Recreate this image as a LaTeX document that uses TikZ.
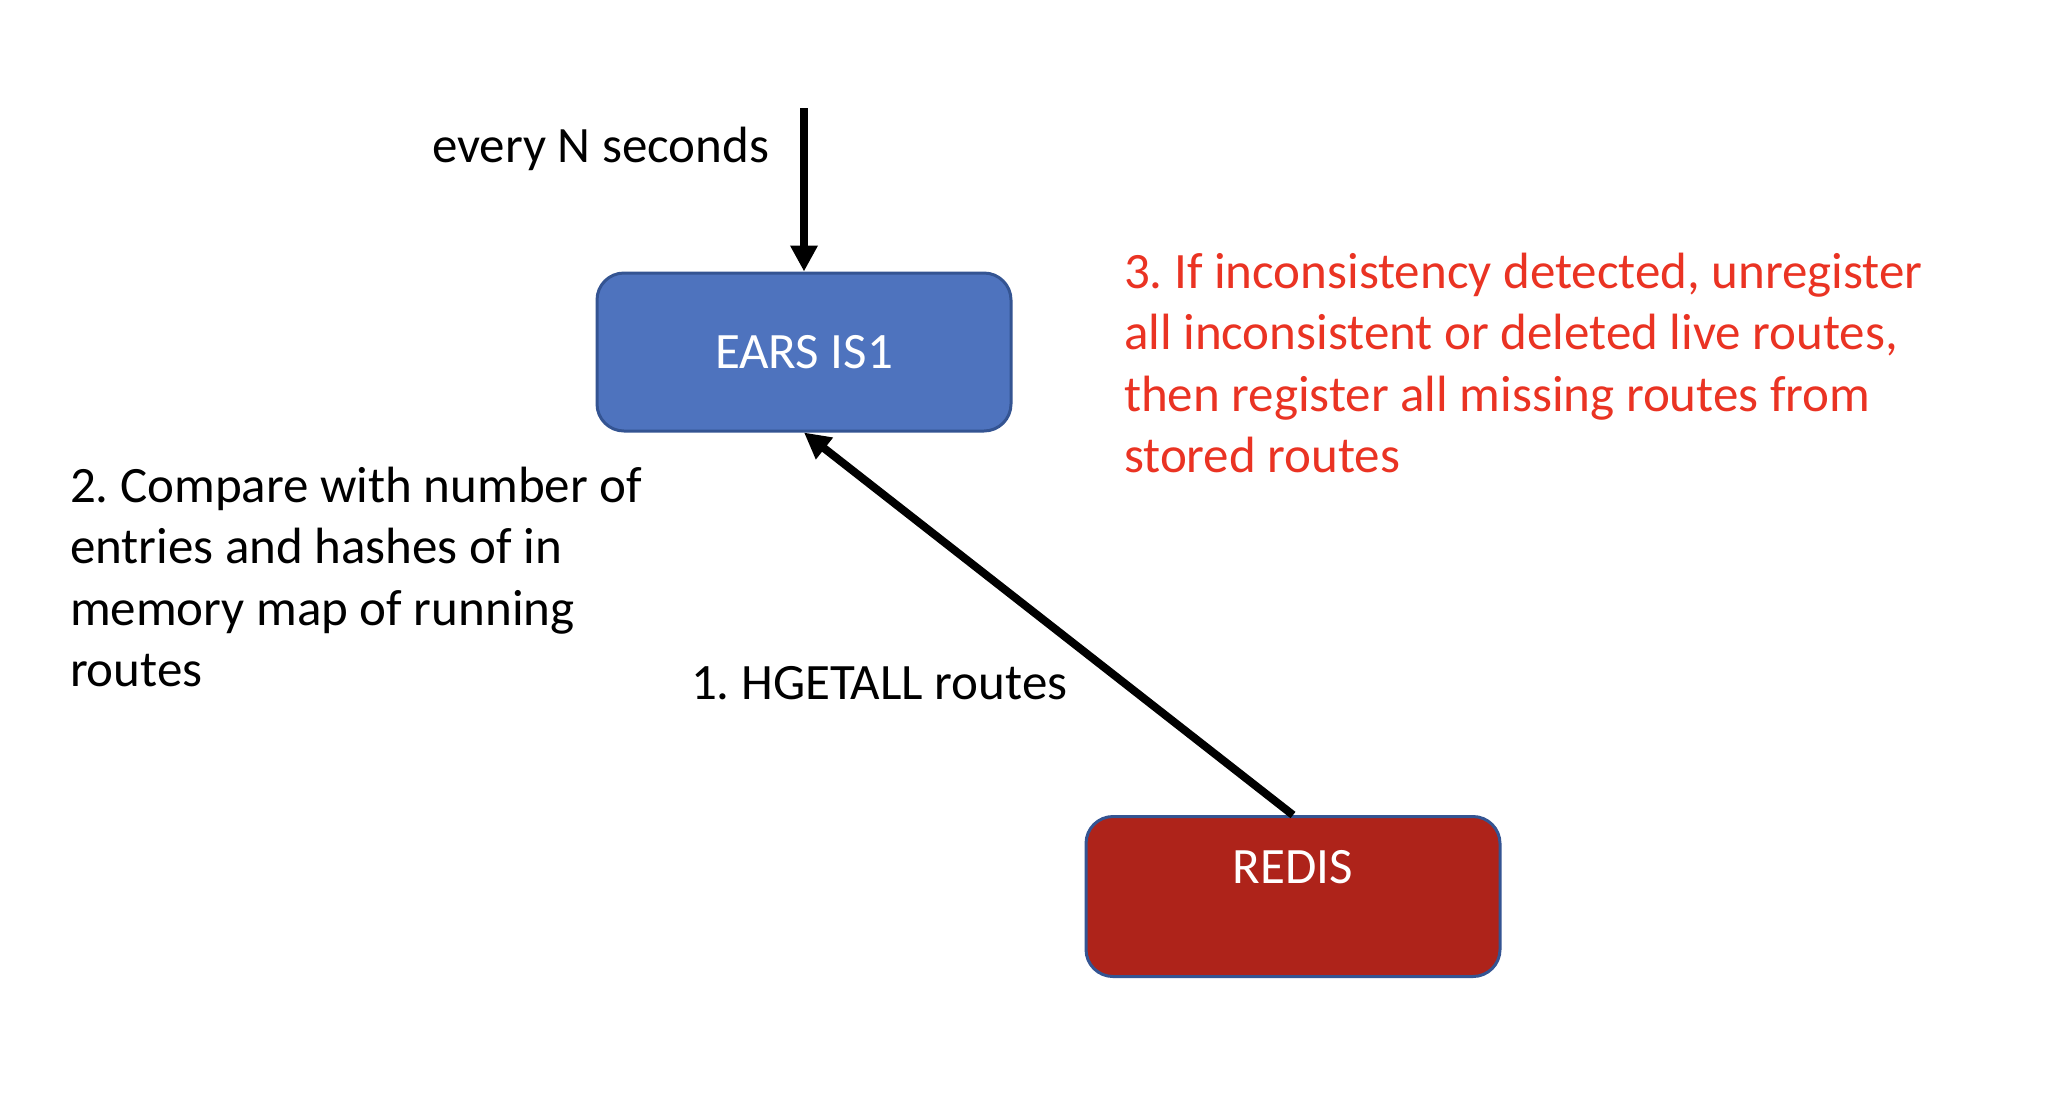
\documentclass[tikz,border=0pt]{standalone}
\usepackage{fontspec}
\setmainfont{Carlito}
\usetikzlibrary{arrows.meta}
\definecolor{earsfill}{RGB}{78,115,190}
\definecolor{boxborder}{RGB}{52,84,146}
\definecolor{redisfill}{RGB}{174,35,26}
\definecolor{notered}{RGB}{234,51,35}
\tikzset{
  plaintext/.style={inner sep=0pt, outer sep=0pt, font=\fontsize{25.5}{30.75}\selectfont\frenchspacing, text=black},
  notetext/.style={plaintext, text=notered},
  whitetext/.style={plaintext, text=white},
  earsbox/.style={rectangle, rounded corners=13.5pt, draw=boxborder, line width=1.5pt,
    fill=earsfill, minimum width=207pt, minimum height=79pt, inner sep=0pt,
    text=white, font=\fontsize{25.5}{30.75}\selectfont},
  redisbox/.style={rectangle, rounded corners=13.5pt, draw=boxborder, line width=1.5pt,
    fill=redisfill, minimum width=207pt, minimum height=80pt, inner sep=0pt},
  arr/.style={line width=4pt, draw=black, -{Triangle[length=13pt,width=13pt]}}
}
\begin{document}
\begin{tikzpicture}[x=0.5pt,y=-0.5pt]
\useasboundingbox (0,0) rectangle (2066,1094);
\fill[white] (0,0) rectangle (2066,1094);

\node[plaintext, anchor=base west] (every) at (432,162) {every N seconds};
\coordinate (src) at (804,108);

\node[earsbox] (ears) at (804,352) {EARS IS1};

\node[redisbox] (redis) at (1293,896.5) {};
\node[whitetext, anchor=base] (redislabel) at (1293,883) {REDIS};

\node[plaintext, anchor=base west] (step2) at (70,502)
  {\vtop{\hbox{2. Compare with number of}\hbox{entries and hashes of in}\hbox{memory map of running}\hbox{routes}}};

\node[plaintext, anchor=base west] (step1) at (691,699) {1. HGETALL routes};

\node[notetext, anchor=base west] (step3) at (1124,288)
  {\vtop{\hbox{3. If inconsistency detected, unregister}\hbox{all inconsistent or deleted live routes,}\hbox{then register all missing routes from}\hbox{stored routes}}};

\draw[arr] (src) -- (ears.north);
\draw[arr] (redis.north) -- (ears.south);
\end{tikzpicture}
\end{document}
